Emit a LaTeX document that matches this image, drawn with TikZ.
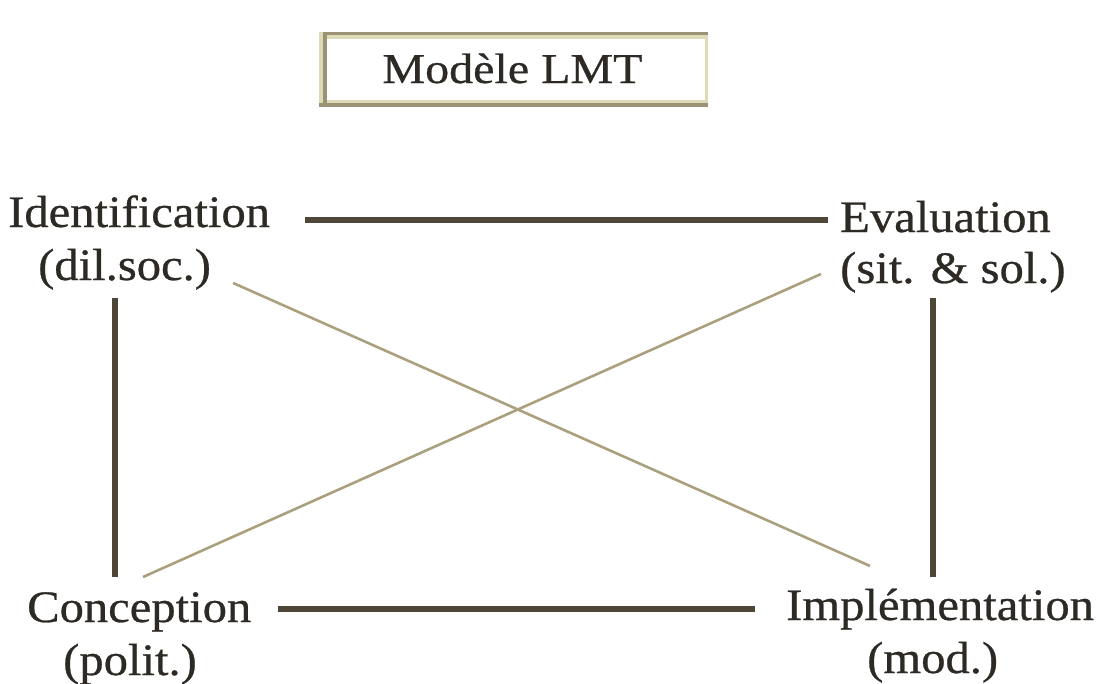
\documentclass[tikz,border=0pt]{standalone}
\usepackage{fontspec}
\setmainfont{Liberation Serif}[FakeStretch=1.08,FakeBold=0.6]
\newfontfamily\titlefont{Liberation Serif}[FakeStretch=1.13,FakeBold=0.6]
\usetikzlibrary{calc}
\definecolor{inkcol}{RGB}{45,41,36}
\definecolor{thickcol}{RGB}{78,70,54}
\definecolor{thincol}{RGB}{170,160,125}
\definecolor{framedark}{RGB}{156,146,118}
\definecolor{framelight}{RGB}{222,218,182}
\tikzset{
  lbl/.style={anchor=base west, inner sep=0pt, text=inkcol, font=\fontsize{45}{52}\selectfont},
  ttl/.style={anchor=base, inner sep=0pt, text=inkcol, font=\titlefont\fontsize{42.5}{50}\selectfont},
  thickline/.style={draw=thickcol, line width=5.5pt},
  thinline/.style={draw=thincol, line width=2.6pt},
}
\begin{document}
\begin{tikzpicture}[x=1pt,y=-1pt]
\useasboundingbox (0,0) rectangle (1097,683);
% title frame
\fill[framelight] (319,32) rectangle (708,107);
\fill[white] (327,39) rectangle (705,100);
\fill[framedark] (323,32) rectangle (708,35);
\fill[framedark] (323,35) rectangle (327,103);
\fill[framedark] (319,103) rectangle (708,107);
\node[ttl] (title) at (512.5,83) {Modèle LMT};
% labels
\node[lbl] (idA) at (8,227) {Identification};
\node[lbl] (idB) at (38,280) {(dil.soc.)};
\node[lbl] (evA) at (840,232) {Evaluation};
\node[lbl] (evB) at (840,283) {(sit. \& sol.)};
\node[lbl] (coA) at (27,622) {Conception};
\node[lbl] (coB) at (63,675) {(polit.)};
\node[lbl] (imA) at (786,620) {Implémentation};
\node[lbl] (imB) at (867,673) {(mod.)};
% connectors
\draw[thinline] ($(idB.base east)+(22,3)$) -- ($(imA.base west)+(84,-54)$);
\draw[thinline] ($(coA.base west)+(116,-45)$) -- ($(evB.base west)+(-19,-9)$);
\draw[thickline] ($(idA.base east)+(35,-7)$) -- ($(evA.base west)+(-12,-12)$);
\draw[thickline] ($(coA.base east)+(27,-13)$) -- ($(imA.base west)+(-31,-11)$);
\draw[thickline] ($(idB.base west)+(77,18)$) -- ($(coA.base west)+(88,-45)$);
\draw[thickline] ($(evB.base west)+(93,15)$) -- ($(imA.base west)+(147,-43)$);
\end{tikzpicture}
\end{document}
